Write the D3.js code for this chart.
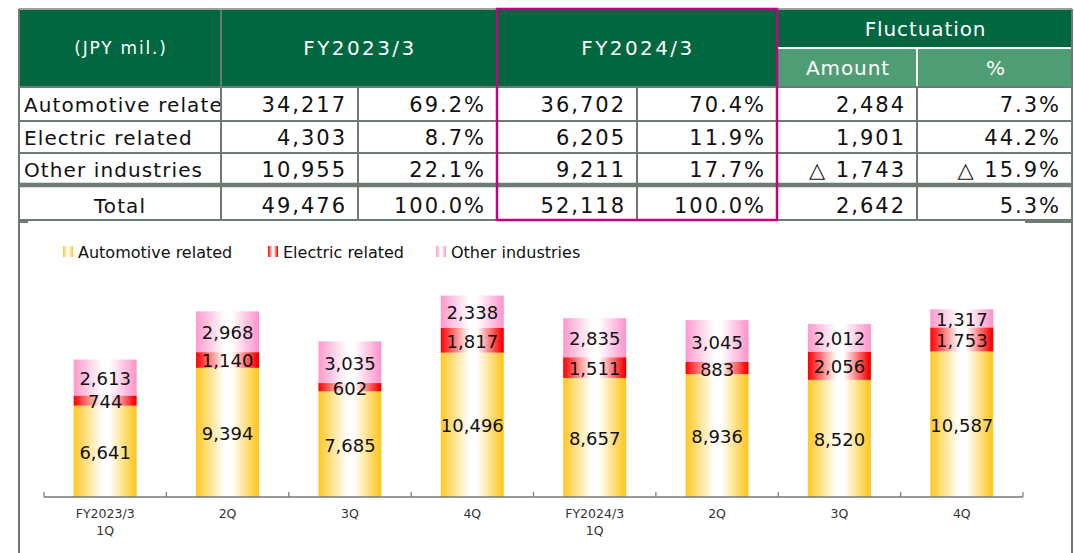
<!DOCTYPE html>
<html>
<head>
<meta charset="utf-8">
<script src="https://cdn.jsdelivr.net/npm/d3@7"></script>
<style>
    html, body { margin: 0; padding: 0; background: #fff; }
    svg { display: block; font-family: "DejaVu Sans", Verdana, sans-serif; }
</style>
</head>
<body>
<div id="chart"></div>
<script>

//******************************************************************************
//**  Data
//******************************************************************************
var tableCategories = ["Automotive related", "Electric related", "Other industries", "Total"];
var fy2023Amount = [34217, 4303, 10955, 49476];
var fy2023Share = [69.2, 8.7, 22.1, 100.0];
var fy2024Amount = [36702, 6205, 9211, 52118];
var fy2024Share = [70.4, 11.9, 17.7, 100.0];
var fluctAmount = [2484, 1901, -1743, 2642];
var fluctPercent = [7.3, 44.2, -15.9, 5.3];

var seriesNames = ["Automotive related", "Electric related", "Other industries"];
var quarterLabels = [["FY2023/3", "1Q"], ["2Q"], ["3Q"], ["4Q"], ["FY2024/3", "1Q"], ["2Q"], ["3Q"], ["4Q"]];
var automotive = [6641, 9394, 7685, 10496, 8657, 8936, 8520, 10587];
var electric = [744, 1140, 602, 1817, 1511, 883, 2056, 1753];
var other = [2613, 2968, 3035, 2338, 2835, 3045, 2012, 1317];


//******************************************************************************
//**  Chart
//******************************************************************************
var width = 1074, height = 553;
var darkGreen = "#006741", lightGreen = "#4f9d75", gridGray = "#6e7b72", magenta = "#c8007e";
var seriesColors = ["#ffc824", "#ff0000", "#ff99cc"];

var svg = d3.select("#chart").append("svg")
    .attr("width", width)
    .attr("height", height);

var defs = svg.append("defs");

// bar fill: colour at the edges, white in the middle
seriesColors.forEach(function(c, i){
    var g = defs.append("linearGradient")
        .attr("id", "grad" + i)
        .attr("x1", "0%").attr("x2", "100%")
        .attr("y1", "0%").attr("y2", "0%");
    [[0, c], [0.45, "#ffffff"], [0.57, "#ffffff"], [0.97, c], [1, c]].forEach(function(s){
        g.append("stop").attr("offset", s[0]).attr("stop-color", s[1]);
    });
});


//**************************************************************************
//** Table
//**************************************************************************
var colEdges = [19, 221, 358, 497, 637, 777, 917, 1072];
var headTop = 9, headMid = 48, headBottom = 87;
var rowEdges = [[87, 121], [121, 153], [153, 185], [189, 220]];

var table = svg.append("g");

// header backgrounds
table.append("rect")
    .attr("x", colEdges[0]).attr("y", headTop)
    .attr("width", colEdges[7] - colEdges[0]).attr("height", headBottom - headTop)
    .attr("fill", darkGreen);
table.append("rect")
    .attr("x", colEdges[5]).attr("y", headMid)
    .attr("width", colEdges[7] - colEdges[5]).attr("height", headBottom - headMid)
    .attr("fill", lightGreen);

// header lines
var hLine = function(x1, x2, y, color, w){
    table.append("line")
        .attr("x1", x1).attr("x2", x2).attr("y1", y).attr("y2", y)
        .attr("stroke", color).attr("stroke-width", w);
};
var vLine = function(x, y1, y2, color, w){
    table.append("line")
        .attr("x1", x).attr("x2", x).attr("y1", y1).attr("y2", y2)
        .attr("stroke", color).attr("stroke-width", w);
};

hLine(colEdges[5], colEdges[7], headMid, "#ffffff", 2);
vLine(colEdges[6], headMid, headBottom, "#ffffff", 2);
vLine(colEdges[1], headTop, headBottom, gridGray, 2);

// header text
var headText = function(x, y, txt, size, spacing){
    table.append("text")
        .attr("x", x).attr("y", y)
        .attr("text-anchor", "middle")
        .attr("dominant-baseline", "central")
        .attr("fill", "#ffffff")
        .style("font-size", size + "px")
        .style("letter-spacing", spacing + "px")
        .text(txt);
};
var mid = function(a, b){ return (a + b) / 2; };
headText(mid(colEdges[0], colEdges[1]) + 1, 48, "(JPY mil.)", 17, 1.8);
headText(mid(colEdges[1], colEdges[3]) + 1, 48, "FY2023/3", 20, 2.4);
headText(mid(colEdges[3], colEdges[5]) + 1, 48, "FY2024/3", 20, 2.4);
headText(mid(colEdges[5], colEdges[7]) + 1, 29, "Fluctuation", 20, 0.9);
headText(mid(colEdges[5], colEdges[6]) + 1, 68, "Amount", 20, 0.9);
headText(mid(colEdges[6], colEdges[7]) + 1, 68, "%", 20, 0);

// row lines
rowEdges.forEach(function(r, i){
    hLine(colEdges[0], colEdges[7], r[1], gridGray, i === 2 ? 4.5 : 2);
});
hLine(colEdges[0], colEdges[7], headBottom, gridGray, 2);
hLine(colEdges[0], colEdges[3], headTop, "#9aa39d", 2);
hLine(colEdges[5], colEdges[7], headTop, "#9aa39d", 2);
[0, 1, 2, 4, 6, 7].forEach(function(k){
    vLine(colEdges[k], k === 0 || k === 7 ? headTop : headBottom, rowEdges[3][1], gridGray, 2);
});
vLine(colEdges[5], headTop, rowEdges[3][1], gridGray, 2);

// cell values
var fmt = d3.format(",");
var fmtAmt = function(v){ return v < 0 ? "\u25b3 " + fmt(-v) : fmt(v); };
var fmtPct = function(v){ return v < 0 ? "\u25b3 " + d3.format(".1f")(-v) + "%" : d3.format(".1f")(v) + "%"; };

var clip = defs.append("clipPath").attr("id", "firstCol");
clip.append("rect")
    .attr("x", colEdges[0]).attr("y", headBottom)
    .attr("width", colEdges[1] - colEdges[0] - 1).attr("height", 140);

var columns = [
    {values: fy2023Amount, format: fmt},
    {values: fy2023Share, format: fmtPct},
    {values: fy2024Amount, format: fmt},
    {values: fy2024Share, format: fmtPct},
    {values: fluctAmount, format: fmtAmt},
    {values: fluctPercent, format: fmtPct}
];

tableCategories.forEach(function(name, i){
    var cy = mid(rowEdges[i][0], rowEdges[i][1]) + 1;
    var isTotal = i === tableCategories.length - 1;
    table.append("text")
        .attr("clip-path", "url(#firstCol)")
        .attr("x", isTotal ? mid(colEdges[0], colEdges[1]) : colEdges[0] + 5)
        .attr("y", cy)
        .attr("text-anchor", isTotal ? "middle" : "start")
        .attr("dominant-baseline", "central")
        .attr("fill", "#111")
        .style("font-size", "20px")
        .style("letter-spacing", "1.1px")
        .text(name);

    columns.forEach(function(col, j){
        table.append("text")
            .attr("x", colEdges[j + 2] - 11)
            .attr("y", cy)
            .attr("text-anchor", "end")
            .attr("dominant-baseline", "central")
            .attr("fill", "#111")
            .style("font-size", "21px")
            .style("letter-spacing", "2px")
            .text(col.format(col.values[i]));
    });
});

// FY2024/3 highlight
table.append("rect")
    .attr("x", colEdges[3]).attr("y", headTop)
    .attr("width", colEdges[5] - colEdges[3]).attr("height", rowEdges[3][1] - headTop)
    .attr("fill", "none")
    .attr("stroke", magenta)
    .attr("stroke-width", 2.5);


//**************************************************************************
//** Chart frame
//**************************************************************************
vLine(colEdges[0], rowEdges[3][1], height, gridGray, 2);
vLine(colEdges[7], rowEdges[3][1], height, gridGray, 2);
hLine(colEdges[0], 28, 222, gridGray, 2);
hLine(1025, colEdges[7], 222, gridGray, 2);


//**************************************************************************
//** Legend
//**************************************************************************
var legendX = [63, 268, 436];
var legend = svg.append("g");
seriesNames.forEach(function(name, i){
    legend.append("rect")
        .attr("x", legendX[i]).attr("y", 246)
        .attr("width", 10).attr("height", 11)
        .attr("fill", "url(#grad" + i + ")");
    legend.append("text")
        .attr("x", legendX[i] + 15).attr("y", 252)
        .attr("dominant-baseline", "central")
        .attr("fill", "#111")
        .style("font-size", "16px")
        .text(name);
});


//**************************************************************************
//** Stacked bars
//**************************************************************************
var quarterData = automotive.map(function(v, i){
    return {index: i, s0: v, s1: electric[i], s2: other[i]};
});

var x = d3.scaleBand()
    .domain(d3.range(quarterLabels.length))
    .range([44, 1023])
    .paddingInner(0.485)
    .paddingOuter(0.2425);

var y = d3.scaleLinear()
    .domain([0, 16000])
    .range([497, 277]);

var stack = d3.stack().keys(["s0", "s1", "s2"]);
var layers = stack(quarterData);

var plot = svg.append("g");

plot.selectAll("g.layer")
    .data(layers)
    .enter()
    .append("g")
    .attr("class", "layer")
    .attr("fill", function(d, i){ return "url(#grad" + i + ")"; })
    .selectAll("rect")
    .data(function(d){ return d; })
    .enter()
    .append("rect")
    .attr("x", function(d){ return x(d.data.index); })
    .attr("y", function(d){ return y(d[1]); })
    .attr("width", x.bandwidth())
    .attr("height", function(d){ return y(d[0]) - y(d[1]); });

// value labels
layers.forEach(function(layer){
    plot.selectAll(null)
        .data(layer)
        .enter()
        .append("text")
        .attr("x", function(d){ return x(d.data.index) + x.bandwidth() / 2; })
        .attr("y", function(d){ return (y(d[0]) + y(d[1])) / 2 + 1; })
        .attr("text-anchor", "middle")
        .attr("dominant-baseline", "central")
        .attr("fill", "#111")
        .style("font-size", "18px")
        .text(function(d){ return fmt(d[1] - d[0]); });
});


//**************************************************************************
//** X axis
//**************************************************************************
var axis = svg.append("g");
axis.append("line")
    .attr("x1", x.range()[0]).attr("x2", x.range()[1])
    .attr("y1", y(0)).attr("y2", y(0))
    .attr("stroke", "#777").attr("stroke-width", 1.5);

var tickPos = x.domain().map(function(d){ return x(d) - x.step() * x.paddingInner() / 2; });
tickPos.push(x.range()[1]);
axis.selectAll("line.tick")
    .data(tickPos)
    .enter()
    .append("line")
    .attr("class", "tick")
    .attr("x1", function(d){ return d; }).attr("x2", function(d){ return d; })
    .attr("y1", y(0) - 5).attr("y2", y(0))
    .attr("stroke", "#777").attr("stroke-width", 1.2);

axis.selectAll("text.qlabel")
    .data(quarterLabels)
    .enter()
    .append("text")
    .attr("class", "qlabel")
    .attr("x", function(d, i){ return x(i) + x.bandwidth() / 2; })
    .attr("y", 514)
    .attr("text-anchor", "middle")
    .attr("fill", "#333")
    .style("font-size", "12.5px")
    .each(function(d){
        var t = d3.select(this);
        d.forEach(function(line, k){
            t.append("tspan")
                .attr("x", t.attr("x"))
                .attr("dy", k === 0 ? "0.35em" : "17px")
                .text(line);
        });
    });

</script>
</body>
</html>
